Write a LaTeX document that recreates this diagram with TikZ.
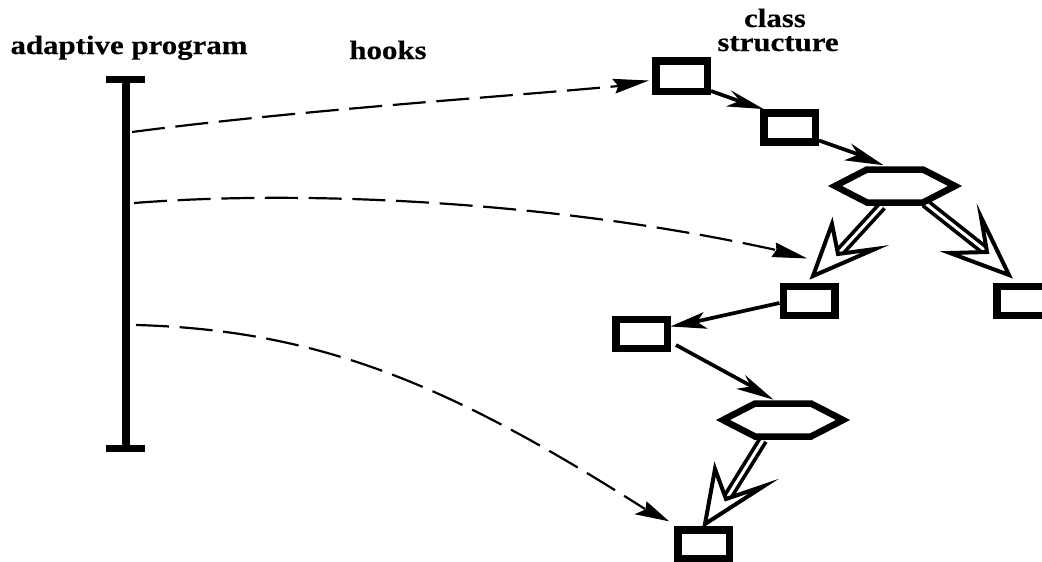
\documentclass[tikz,border=0pt]{standalone}
\usepackage{fontspec}
\newfontfamily\labfont[FakeStretch=1.165,BoldFeatures={FakeBold=0.4}]{Liberation Serif}
\usetikzlibrary{calc}
\tikzset{
  x=1pt,y=-1pt,
  boxn/.style={draw=black,line width=7.5pt,fill=white,inner sep=0pt,minimum width=51.5pt,minimum height=29pt},
  hexn/.style={inner sep=0pt,minimum width=122pt,minimum height=33pt},
  hexline/.style={draw=black,fill=white,line width=6.5pt,line join=miter,miter limit=10},
  arr/.style={line width=3.7pt},
  headfill/.style={fill=black,draw=black,line width=1.2pt,line join=miter},
  hook/.style={line width=2.2pt,dash pattern=on 33pt off 10.7pt},
  dbl/.style={line width=3.7pt,draw=black,double=white,double distance=3pt},
  hollow/.style={draw=black,fill=white,line width=4pt,line join=miter,miter limit=20},
  lab/.style={font=\labfont\bfseries\fontsize{26.5}{24}\selectfont,inner sep=0pt,align=center},
  bar/.style={line width=8pt}
}
\newcommand{\hexdraw}[1]{\draw[hexline] ($(#1)+(-60,0)$) -- ($(#1)+(-28,-16.5)$) -- ($(#1)+(28,-16.5)$) -- ($(#1)+(60,0)$) -- ($(#1)+(28,16.5)$) -- ($(#1)+(-28,16.5)$) -- cycle;}
\begin{document}
\begin{tikzpicture}
\useasboundingbox (0,0) rectangle (1042,562);
% labels
\node[lab,anchor=base] (ap) at (129,54) {adaptive program};
\node[lab,anchor=base] (hk) at (388,59) {hooks};
\node[lab,anchor=base] (cs1) at (775,27) {class};
\node[lab,anchor=base] (cs2) at (778,51) {structure};
% adaptive program bar
\coordinate (bt) at (125.5,79);
\coordinate (bb) at (125.5,449);
\draw[bar] (bt) -- (bb);
\draw[bar,line width=7.5pt] ($(bt)+(-19.5,0.7)$) -- ($(bt)+(19.5,0.7)$);
\draw[bar,line width=7.5pt] ($(bb)+(-19.5,-0.5)$) -- ($(bb)+(19.5,-0.5)$);
% nodes
\node[boxn,minimum height=30.5pt] (A) at (681.5,76) {};
\node[boxn] (B) at (789.5,127.5) {};
\node (H1) [hexn] at (895,186) {};
\node[boxn] (C) at (809,301) {};
\node[boxn] (D) at (1022.5,301) {};
\node[boxn] (E) at (641.5,334) {};
\node (H2) [hexn] at (783,420) {};
\node[boxn] (F) at (703.5,544.5) {};
% double shafts
\draw[dbl] ($(H1)+(-13,20)$) -- (838,254);
\draw[dbl] ($(H1)+(30,17)$) -- (987,252);
\draw[dbl] ($(H2)+(-20,20)$) -- (727,498);
% hexagons
\hexdraw{H1}
\hexdraw{H2}
% plain arrows
\draw[arr] ($(A.east)+(0,15)$) -- (742,102);
\fill[headfill] ($(B.north west)+(1,-1)$) -- (733.5,92.5) -- (741,101) -- (728.5,106) -- cycle;
\draw[arr] ($(B.east)+(0,13)$) -- (860,155);
\fill[headfill] ($(H1.north)+(-14,-5)$) -- (853,145.5) -- (859,155) -- (846.5,160) -- cycle;
\draw[arr] ($(C.west)+(0,2)$) -- (694,322);
\fill[headfill] ($(E.east)+(2,-8)$) -- (702,313.5) -- (696,322) -- (705.5,328) -- cycle;
\draw[arr] ($(E.east)+(5,11)$) -- (753,387);
\fill[headfill] ($(H2.north)+(-12,-5)$) -- (747,377.5) -- (752,387) -- (739,389) -- cycle;
% hollow heads
\draw[hollow] (813,276) -- (832,224) -- (838,254) -- (875,249) -- cycle;
\draw[hollow] (1009,275) -- (981,217) -- (987,252) -- (950,253) -- cycle;
\draw[hollow] (705,524) -- (715,469) -- (726,499) -- (764,486) -- cycle;
% hooks
\draw[hook] ($(bt)+(6.5,53)$) .. controls (300,110) and (500,97) .. (619,86);
\fill[headfill] ($(A.west)+(-6,5)$) -- (613.5,79.5) -- (619,86) -- (616.5,92.5) -- cycle;
\draw[hook] ($(bt)+(8.5,124)$) .. controls (300,190) and (550,200) .. (776,250);
\fill[headfill] ($(C.north west)+(25,-25)$) -- (776.5,243.5) -- (777,250) -- (772.5,256.5) -- cycle;
\draw[hook] ($(bt)+(10.5,246)$) .. controls (320,330) and (450,385) .. (645,509);
\fill[headfill] ($(F.north west)+(-7,-6)$) -- (647,502.5) -- (646,510) -- (636.5,514) -- cycle;
\end{tikzpicture}
\end{document}
